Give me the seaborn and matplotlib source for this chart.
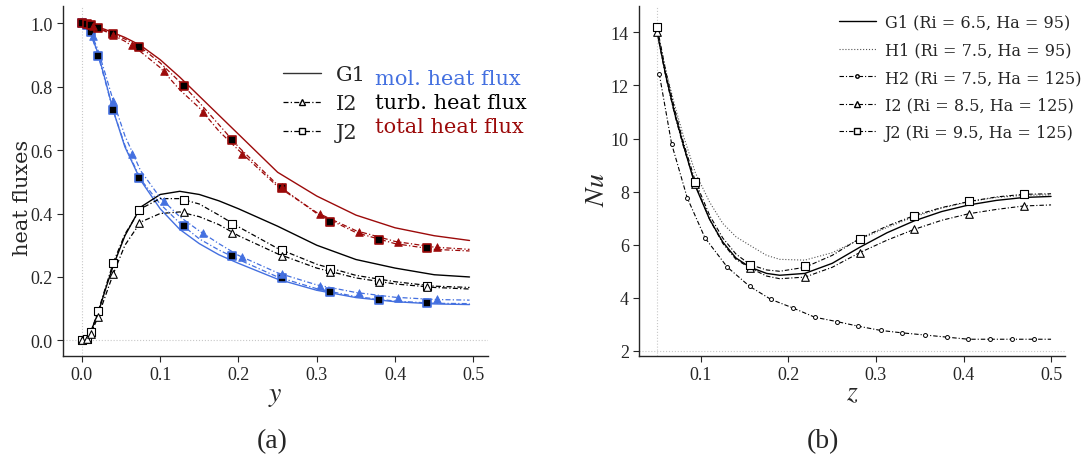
import matplotlib
matplotlib.use("Agg")
import matplotlib.pyplot as plt
from matplotlib.lines import Line2D
import seaborn as sns

# ---- panel (a): heat fluxes over y ----
y_grid = [0, 0.005, 0.01, 0.02, 0.03, 0.04, 0.055, 0.075, 0.1, 0.125, 0.15, 0.175,
          0.2, 0.25, 0.3, 0.35, 0.4, 0.45, 0.495]

mol_G1 = [1.0, 0.995, 0.975, 0.91, 0.82, 0.725, 0.61, 0.505, 0.415, 0.35, 0.305, 0.27,
          0.243, 0.193, 0.158, 0.135, 0.122, 0.115, 0.113]
mol_I2 = [1.0, 0.995, 0.978, 0.92, 0.84, 0.756, 0.645, 0.535, 0.45, 0.39, 0.345, 0.305,
          0.268, 0.213, 0.175, 0.151, 0.136, 0.129, 0.127]
mol_J2 = [1.0, 0.995, 0.975, 0.905, 0.815, 0.725, 0.615, 0.508, 0.43, 0.37, 0.32, 0.285,
          0.255, 0.2, 0.163, 0.138, 0.124, 0.117, 0.116]

turb_G1 = [0, 0.003, 0.02, 0.08, 0.16, 0.235, 0.33, 0.42, 0.46, 0.47, 0.46, 0.44,
           0.415, 0.36, 0.3, 0.255, 0.228, 0.207, 0.2]
turb_I2 = [0, 0.002, 0.014, 0.07, 0.14, 0.209, 0.3, 0.373, 0.4, 0.405, 0.39, 0.365,
           0.33, 0.273, 0.228, 0.197, 0.178, 0.167, 0.162]
turb_J2 = [0, 0.003, 0.018, 0.085, 0.165, 0.244, 0.335, 0.415, 0.447, 0.447, 0.43, 0.395,
           0.358, 0.29, 0.24, 0.205, 0.185, 0.171, 0.167]

tot_G1 = [1.0, 0.998, 0.995, 0.988, 0.98, 0.97, 0.955, 0.93, 0.885, 0.83, 0.77, 0.71,
          0.65, 0.53, 0.455, 0.395, 0.355, 0.33, 0.315]
tot_I2 = [1.0, 0.997, 0.993, 0.984, 0.974, 0.962, 0.943, 0.91, 0.86, 0.79, 0.733, 0.66,
          0.6, 0.485, 0.403, 0.346, 0.312, 0.294, 0.287]
tot_J2 = [1.0, 0.997, 0.993, 0.985, 0.976, 0.966, 0.95, 0.924, 0.875, 0.815, 0.75, 0.68,
          0.61, 0.49, 0.4, 0.34, 0.305, 0.287, 0.282]

# marker positions
sq_y = [0, 0.006, 0.0114, 0.021, 0.04, 0.0736, 0.13, 0.192, 0.255, 0.317, 0.379, 0.441]
turb_J2_pts = [0, 0.004, 0.025, 0.092, 0.244, 0.4125, 0.444, 0.368, 0.284, 0.225, 0.192, 0.173]
turb_I2_pts = [0, 0.003, 0.02, 0.074, 0.209, 0.371, 0.404, 0.34, 0.267, 0.217, 0.185, 0.168]
mol_J2_pts = [1.0, 0.995, 0.972, 0.897, 0.725, 0.513, 0.36, 0.265, 0.197, 0.152, 0.127, 0.117]
tot_J2_pts = [1.0, 0.997, 0.994, 0.985, 0.966, 0.926, 0.803, 0.631, 0.48, 0.374, 0.317, 0.29]

tri_y = [0.0144, 0.04, 0.064, 0.105, 0.155, 0.204, 0.255, 0.304, 0.354, 0.4036, 0.453]
mol_I2_pts = [0.958, 0.756, 0.5875, 0.44, 0.3375, 0.263, 0.21, 0.173, 0.149, 0.135, 0.129]
tot_I2_pts = [0.992, 0.963, 0.93, 0.85, 0.72, 0.5875, 0.485, 0.397, 0.343, 0.31, 0.293]

# ---- panel (b): Nusselt number over z ----
z_grid = [0.05, 0.06, 0.07, 0.08, 0.09375, 0.11, 0.125, 0.14, 0.15625, 0.175, 0.19,
          0.21875, 0.25, 0.28125, 0.3125, 0.34375, 0.375, 0.40625, 0.4375, 0.46875, 0.5]
Nu_G1 = [14.0, 12.35, 10.95, 9.75, 8.2, 6.95, 6.1, 5.5, 5.15, 4.92, 4.85,
         4.92, 5.3, 5.9, 6.45, 6.9, 7.25, 7.5, 7.67, 7.78, 7.82]
Nu_H1 = [14.1, 12.55, 11.25, 10.1, 8.7, 7.6, 6.8, 6.3, 5.97, 5.6, 5.45,
         5.42, 5.7, 6.2, 6.65, 7.05, 7.38, 7.62, 7.78, 7.86, 7.88]
Nu_I2 = [14.0, 12.3, 10.9, 9.7, 8.25, 6.95, 6.05, 5.45, 5.12, 4.82, 4.72,
         4.78, 5.15, 5.7, 6.17, 6.58, 6.92, 7.17, 7.33, 7.46, 7.5]
Nu_J2 = [14.2, 12.5, 11.1, 9.85, 8.37, 7.1, 6.25, 5.65, 5.25, 5.05, 5.0,
         5.15, 5.6, 6.23, 6.7, 7.1, 7.4, 7.63, 7.8, 7.9, 7.92]

z_H2 = [0.0523, 0.0665, 0.0843, 0.1046, 0.13, 0.1557, 0.18, 0.205, 0.23, 0.256, 0.28,
        0.3057, 0.33, 0.3557, 0.3806, 0.4055, 0.43, 0.455, 0.48, 0.5]
Nu_H2 = [12.45, 9.8, 7.77, 6.26, 5.16, 4.43, 3.94, 3.62, 3.27, 3.1, 2.93,
         2.77, 2.68, 2.6, 2.52, 2.44, 2.44, 2.44, 2.44, 2.44]

z_mark = [0.05, 0.09375, 0.15625, 0.21875, 0.28125, 0.34375, 0.40625, 0.46875]
Nu_J2_pts = [14.2, 8.37, 5.25, 5.2, 6.23, 7.1, 7.63, 7.9]
Nu_I2_pts = [14.0, 8.3, 5.12, 4.78, 5.7, 6.58, 7.17, 7.46]

legend_b = ["G1 (Ri = 6.5, Ha = 95)", "H1 (Ri = 7.5, Ha = 95)", "H2 (Ri = 7.5, Ha = 125)",
            "I2 (Ri = 8.5, Ha = 125)", "J2 (Ri = 9.5, Ha = 125)"]

sns.set_style("ticks")
plt.rcParams["font.family"] = ["Liberation Serif", "DejaVu Serif"]
plt.rcParams["mathtext.fontset"] = "stix"

BLUE = "#4470e0"
RED = "#9c0a0a"
DD = (0, (4, 1.8, 1, 1.8))
WIDE = "DejaVu Serif"

fig = plt.figure(figsize=(10.89, 4.6), dpi=100)
ax1 = fig.add_axes([0.0579, 0.224, 0.3905, 0.760])
ax2 = fig.add_axes([0.587, 0.224, 0.391, 0.760])

# panel (a) lines
for ys, col in [(mol_G1, BLUE), (turb_G1, "black"), (tot_G1, RED)]:
    sns.lineplot(x=y_grid, y=ys, ax=ax1, color=col, lw=1.0, sort=False, estimator=None, legend=False)
for ys, col in [(mol_I2, BLUE), (turb_I2, "black"), (tot_I2, RED),
                (mol_J2, BLUE), (turb_J2, "black"), (tot_J2, RED)]:
    sns.lineplot(x=y_grid, y=ys, ax=ax1, color=col, lw=0.9, ls=DD, sort=False, estimator=None, legend=False)

# panel (a) markers
sns.scatterplot(x=sq_y, y=turb_J2_pts, ax=ax1, marker="s", s=34, color="white", edgecolor="black", linewidth=0.8, zorder=5)
sns.scatterplot(x=sq_y, y=turb_I2_pts, ax=ax1, marker="^", s=30, color="white", edgecolor="black", linewidth=0.8, zorder=5)
sns.scatterplot(x=sq_y, y=mol_J2_pts, ax=ax1, marker="s", s=34, color="black", edgecolor=BLUE, linewidth=1.2, zorder=5)
sns.scatterplot(x=tri_y, y=mol_I2_pts, ax=ax1, marker="^", s=30, color=BLUE, edgecolor=BLUE, linewidth=0.6, zorder=5)
sns.scatterplot(x=sq_y, y=tot_J2_pts, ax=ax1, marker="s", s=34, color="black", edgecolor=RED, linewidth=1.2, zorder=5)
sns.scatterplot(x=tri_y, y=tot_I2_pts, ax=ax1, marker="^", s=30, color=RED, edgecolor=RED, linewidth=0.6, zorder=5)

ax1.axhline(0, color="#c8c8c8", lw=0.8, ls=":", zorder=0)
ax1.axvline(0, color="#c8c8c8", lw=0.8, ls=":", zorder=0)
ax1.set_xlim(-0.024, 0.519)
ax1.set_ylim(-0.049, 1.053)
ax1.set_xticks([0, 0.1, 0.2, 0.3, 0.4, 0.5])
ax1.set_yticks([0, 0.2, 0.4, 0.6, 0.8, 1.0])
ax1.set_xticklabels(["0.0", "0.1", "0.2", "0.3", "0.4", "0.5"])
ax1.set_yticklabels(["0.0", "0.2", "0.4", "0.6", "0.8", "1.0"])
ax1.tick_params(labelsize=13, length=4, width=0.8)
ax1.set_xlabel("$y$", fontsize=20, labelpad=0)
ax1.set_ylabel("heat fluxes", fontsize=15, family=WIDE)
ax1.yaxis.set_label_coords(-0.073, 0.456)

h_a = [Line2D([], [], color="#333333", lw=1.0),
       Line2D([], [], color="black", lw=0.9, ls=DD, marker="^", ms=5, mfc="white", mec="black"),
       Line2D([], [], color="black", lw=0.9, ls=DD, marker="s", ms=5, mfc="white", mec="black")]
ax1.legend(h_a, ["G1", "I2", "J2"], loc="upper left", bbox_to_anchor=(0.498, 0.855), frameon=False,
           prop={"family": WIDE, "size": 15}, handlelength=1.8, labelspacing=0.48,
           handletextpad=0.72, borderaxespad=0)
for i, (txt, col) in enumerate([("mol. heat flux", BLUE), ("turb. heat flux", "black"),
                                ("total heat flux", RED)]):
    ax1.text(0.734, 0.794 - i * 0.0688, txt, transform=ax1.transAxes, color=col,
             fontsize=15, family=WIDE, va="center")

# panel (b)
sns.lineplot(x=z_grid, y=Nu_G1, ax=ax2, color="black", lw=1.0, sort=False, estimator=None, legend=False)
sns.lineplot(x=z_grid, y=Nu_H1, ax=ax2, color="#555555", lw=0.8, ls=":", sort=False, estimator=None, legend=False)
sns.lineplot(x=z_H2, y=Nu_H2, ax=ax2, color="black", lw=0.8, ls=DD, sort=False, estimator=None, legend=False)
sns.lineplot(x=z_grid, y=Nu_I2, ax=ax2, color="black", lw=0.8, ls=DD, sort=False, estimator=None, legend=False)
sns.lineplot(x=z_grid, y=Nu_J2, ax=ax2, color="black", lw=0.8, ls=DD, sort=False, estimator=None, legend=False)
sns.scatterplot(x=z_H2[:-1], y=Nu_H2[:-1], ax=ax2, marker="o", s=8, color="white", edgecolor="black", linewidth=0.7, zorder=5)
sns.scatterplot(x=z_mark, y=Nu_I2_pts, ax=ax2, marker="^", s=30, color="white", edgecolor="black", linewidth=0.8, zorder=5)
sns.scatterplot(x=z_mark, y=Nu_J2_pts, ax=ax2, marker="s", s=34, color="white", edgecolor="black", linewidth=0.8, zorder=5)

ax2.axhline(2, color="#c8c8c8", lw=0.8, ls=":", zorder=0)
ax2.axvline(0.05, color="#c8c8c8", lw=0.8, ls=":", zorder=0)
ax2.set_xlim(0.0295, 0.516)
ax2.set_ylim(1.81, 14.98)
ax2.set_xticks([0.1, 0.2, 0.3, 0.4, 0.5])
ax2.set_yticks([2, 4, 6, 8, 10, 12, 14])
ax2.tick_params(labelsize=13, length=4, width=0.8)
ax2.set_xlabel("$z$", fontsize=20, labelpad=-2)
ax2.set_ylabel("$Nu$", fontsize=20)
ax2.yaxis.set_label_coords(-0.068, 0.479)

h_b = [Line2D([], [], color="black", lw=1.0),
       Line2D([], [], color="#555555", lw=0.8, ls=":"),
       Line2D([], [], color="black", lw=0.8, ls=DD, marker="o", ms=2.5, mfc="white", mec="black"),
       Line2D([], [], color="black", lw=0.8, ls=DD, marker="^", ms=4.5, mfc="white", mec="black"),
       Line2D([], [], color="black", lw=0.8, ls=DD, marker="s", ms=4.5, mfc="white", mec="black")]
ax2.legend(h_b, legend_b, loc="upper left", bbox_to_anchor=(0.454, 0.997), frameon=False,
           prop={"family": WIDE, "size": 11.5}, handlelength=2.3, labelspacing=0.66,
           handletextpad=0.56, borderaxespad=0)

for ax in (ax1, ax2):
    sns.despine(ax=ax)
    for s in ("left", "bottom"):
        ax.spines[s].set_linewidth(1.0)

fig.text(0.2498, 0.04, "(a)", fontsize=20, ha="center", va="center")
fig.text(0.7557, 0.04, "(b)", fontsize=20, ha="center", va="center")

fig.savefig("out.png", dpi=100)
